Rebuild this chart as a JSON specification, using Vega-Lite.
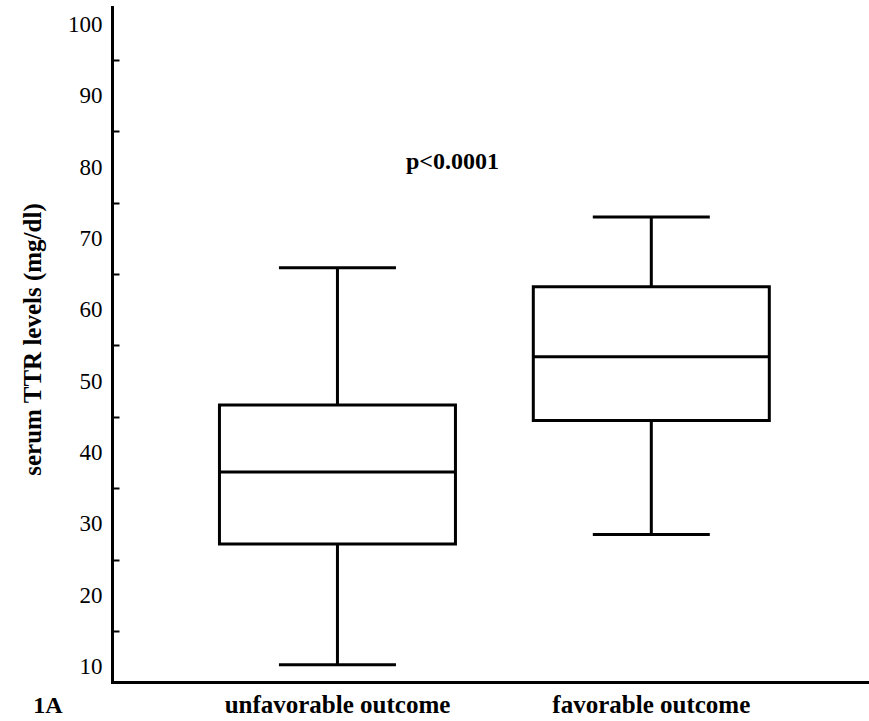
{
  "$schema": "https://vega.github.io/schema/vega-lite/v6.json",
  "autosize": "none",
  "padding": {"left": 112, "top": 7, "right": 0, "bottom": 39},
  "width": 757,
  "height": 675,
  "background": "white",
  "config": {
    "view": {"stroke": null},
    "font": "Liberation Serif",
    "axis": {"labelFont": "Liberation Serif", "titleFont": "Liberation Serif", "domainColor": "black", "domainWidth": 3, "domainCap": "square", "grid": false, "labelColor": "black", "titleColor": "black"}
  },
  "data": {
    "values": [
      {"group": "unfavorable outcome", "lower": 10.24, "q1": 27.17, "median": 37.25, "q3": 46.67, "upper": 65.89},
      {"group": "favorable outcome", "lower": 28.52, "q1": 44.48, "median": 53.43, "q3": 63.23, "upper": 73.03}
    ]
  },
  "resolve": {"axis": {"y": "independent"}},
  "encoding": {
    "x": {
      "field": "group",
      "type": "nominal",
      "sort": ["unfavorable outcome", "favorable outcome"],
      "scale": {"paddingInner": 0, "paddingOuter": 0.206, "align": 0.53},
      "axis": {
        "title": "1A",
        "titleFont": "Liberation Serif",
        "titleX": -64.5,
        "titleY": 30,
        "titleAlign": "center",
        "titleBaseline": "alphabetic",
        "titleFontSize": 24,
        "titleFontWeight": "bold",
        "labelFont": "Liberation Serif",
        "labelFontSize": 25,
        "labelFontWeight": "bold",
        "labelBaseline": "alphabetic",
        "labelPadding": 30,
        "labelAngle": 0,
        "labelLimit": 0,
        "labelDx": 5,
        "ticks": false
      }
    }
  },
  "layer": [
    {
      "mark": {"type": "rule", "color": "black", "strokeWidth": 3},
      "encoding": {
        "y": {
          "field": "lower",
          "type": "quantitative",
          "scale": {"domain": [7.83, 102.45], "nice": false, "zero": false},
          "axis": {
            "orient": "left",
            "title": "serum TTR levels (mg/dl)",
            "titleFont": "Liberation Serif",
            "titleFontSize": 25,
            "titleFontWeight": "bold",
            "titleX": -80,
            "titleY": 332,
            "titleAngle": -90,
            "titleAlign": "center",
            "titleBaseline": "middle",
            "values": [10, 20, 30, 40, 50, 60, 70, 80, 90, 100],
            "labelFont": "Liberation Serif",
            "labelFontSize": 23,
            "labelPadding": 10,
            "labelLimit": 0,
            "ticks": false
          }
        },
        "y2": {"field": "upper"}
      }
    },
    {
      "mark": {"type": "bar", "size": 236, "fill": "white", "stroke": "black", "strokeWidth": 3},
      "encoding": {
        "y": {
          "field": "q1",
          "type": "quantitative",
          "axis": {
            "orient": "right",
            "offset": -757,
            "title": null,
            "values": [15, 25, 35, 45, 55, 65, 75, 85, 95],
            "labels": false,
            "domain": false,
            "ticks": true,
            "tickSize": 7,
            "tickWidth": 2,
            "tickColor": "black"
          }
        },
        "y2": {"field": "q3"}
      }
    },
    {
      "mark": {"type": "tick", "size": 236, "thickness": 3, "color": "black", "opacity": 1},
      "encoding": {"y": {"field": "median", "type": "quantitative", "axis": null}}
    },
    {
      "mark": {"type": "tick", "size": 117, "thickness": 3, "color": "black", "opacity": 1},
      "encoding": {"y": {"field": "lower", "type": "quantitative", "axis": null}}
    },
    {
      "mark": {"type": "tick", "size": 117, "thickness": 3, "color": "black", "opacity": 1},
      "encoding": {"y": {"field": "upper", "type": "quantitative", "axis": null}}
    },
    {
      "data": {"values": [{"group": "unfavorable outcome", "label": "p<0.0001", "value": 79.7}]},
      "mark": {"type": "text", "fontSize": 24, "fontWeight": "bold", "font": "Liberation Serif", "baseline": "alphabetic", "align": "center", "dx": 115, "color": "black"},
      "encoding": {
        "y": {"field": "value", "type": "quantitative", "axis": null},
        "text": {"field": "label"}
      }
    }
  ]
}
